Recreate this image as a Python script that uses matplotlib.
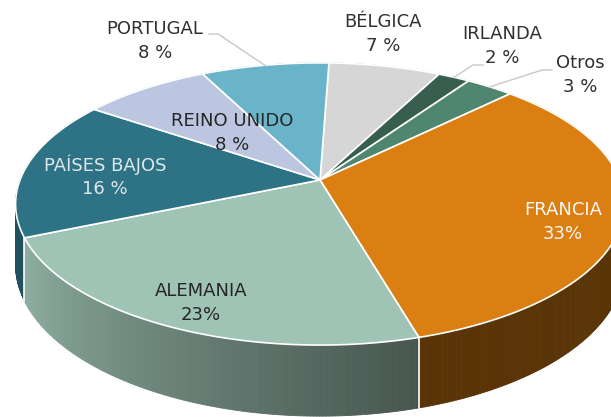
import numpy as np
import matplotlib
matplotlib.use('Agg')
import matplotlib.pyplot as plt
from matplotlib.patches import Polygon

# data, clockwise from 12 o'clock
countries = ['BÉLGICA', 'IRLANDA', 'Otros', 'FRANCIA', 'ALEMANIA', 'PAÍSES BAJOS', 'REINO UNIDO', 'PORTUGAL']
shares = [7, 2, 3, 33, 23, 16, 8, 8]
pct_labels = ['7 %', '2 %', '3 %', '33%', '23%', '16 %', '8 %', '8 %']

colors = ['#d6d6d6', '#375e4f', '#4f8670', '#db7f12', '#9fc3b4', '#2e7385', '#bcc6e0', '#6ab4c9']
# wall shading (factor at slice start, factor at slice end)
wall_shade = {'FRANCIA': (0.40, 0.41), 'ALEMANIA': (0.44, 0.90), 'PAÍSES BAJOS': (0.70, 0.70)}

# label placement: (x, y of first line, text color, leader start or None)
label_pos = {
    'BÉLGICA': (383, 22, '#303030', None),
    'IRLANDA': (502, 34, '#303030', (483, 65, 473)),
    'Otros': (580, 63, '#303030', (552, 70, 542)),
    'FRANCIA': (563, 210, '#f7f7f7', None),
    'ALEMANIA': (201, 291, '#262626', None),
    'PAÍSES BAJOS': (105, 165, '#dde7ea', None),
    'REINO UNIDO': (232, 121, '#262626', None),
    'PORTUGAL': (155, 29, '#303030', (209, 34, 218)),
}

# projection of the tilted pie (pixel space)
cx, cy = 320, 180
Rx, Ry = 300, 137
persp = 0.17
depth = 59
start_angle = 2.0


def project(theta_deg, r=1.0, z=0.0):
    t = np.radians(theta_deg)
    u = r * np.sin(t)
    v = r * np.cos(t)
    w = 1 + persp * v
    return cx + Rx * u / w, cy - Ry * v / w + depth * z / w


def shade(hex_color, f):
    rgb = np.array(matplotlib.colors.to_rgb(hex_color))
    return tuple(np.clip(rgb * f, 0, 1))


fig = plt.figure(figsize=(6.11, 4.17), dpi=100)
ax = fig.add_axes([0, 0, 1, 1])
ax.set_xlim(0, 611)
ax.set_ylim(417, 0)
ax.axis('off')

bounds = start_angle + 3.6 * np.concatenate([[0], np.cumsum(shares)])

# walls: small segments sorted back to front
segments = []
for i, name in enumerate(countries):
    a0, a1 = bounds[i], bounds[i + 1]
    n = max(int((a1 - a0) / 0.5), 2)
    angs = np.linspace(a0, a1, n + 1)
    f0, f1 = wall_shade.get(name, (0.6, 0.6))
    for k in range(n):
        t0, t1 = angs[k], angs[k + 1]
        frac = (k + 0.5) / n
        f = f0 + (f1 - f0) * frac
        c = shade(colors[i], f)
        p = [project(t0), project(t1), project(t1, z=1), project(t0, z=1)]
        v = np.cos(np.radians((t0 + t1) / 2))
        segments.append((v, p, c))
segments.sort(key=lambda s: -s[0])
for v, p, c in segments:
    ax.add_patch(Polygon(p, closed=True, facecolor=c, edgecolor=c, lw=0.6))

# white seams on walls at slice boundaries
for b in bounds:
    if np.cos(np.radians(b)) < 0:
        x0, y0 = project(b)
        x1, y1 = project(b, z=1)
        ax.plot([x0, x1], [y0, y1], color='white', lw=1.2)

# top faces
for i, name in enumerate(countries):
    angs = np.linspace(bounds[i], bounds[i + 1], 100)
    pts = [project(a) for a in angs]
    pts = [project(0, r=0)] + pts
    ax.add_patch(Polygon(pts, closed=True, facecolor=colors[i], edgecolor='white', lw=1.2))

# labels
for i, name in enumerate(countries):
    x, y, col, lead = label_pos[name]
    ax.text(x, y, name, ha='center', va='center', fontsize=13, color=col, family='DejaVu Sans')
    ax.text(x, y + 24, pct_labels[i], ha='center', va='center', fontsize=13, color=col, family='DejaVu Sans')
    if lead is not None:
        mid = (bounds[i] + bounds[i + 1]) / 2
        ex, ey = project(mid)
        lx, ly, kx = lead
        ax.plot([lx, kx, ex], [ly, ly, ey], color='#c8c8c8', lw=1)

fig.savefig('out.png', dpi=100)
